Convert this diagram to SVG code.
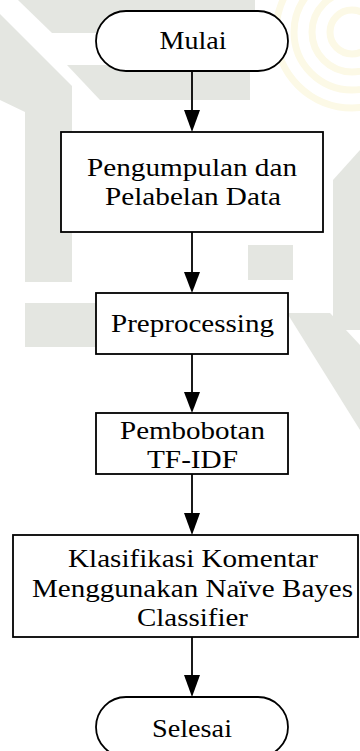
<svg xmlns="http://www.w3.org/2000/svg" width="360" height="751" viewBox="0 0 360 751">
<style>
  .wm { fill: #e4e6e1; stroke: none; }
  .ring { fill: none; stroke: #fcf9e6; stroke-width: 7; }
  .shape { fill: #ffffff; stroke: #000000; stroke-width: 1.8; }
  .lbl { font-family: "Liberation Serif", "Times New Roman", serif; font-size: 26px; fill: #000000; text-anchor: middle; }
  .conn { stroke: #000000; stroke-width: 1.8; fill: none; }
  .head { fill: #000000; stroke: none; }
</style>
<defs>
  <clipPath id="clipTR"><rect x="262" y="0" width="98" height="112"/></clipPath>
</defs>
<rect x="0" y="0" width="360" height="751" fill="#ffffff"/>
<g id="watermark">
  <polygon class="wm" points="18,0 255,0 255,33 52,33"/>
  <polygon class="wm" points="0,14 72,86 72,282 25,282 25,112 0,100"/>
  <polygon class="wm" points="67,65 250,65 250,100 100,100"/>
  <polygon class="wm" points="248,245 293,245 293,280 248,280"/>
  <polygon class="wm" points="333,180 360,150 360,330 333,330"/>
  <polygon class="wm" points="25,303 150,303 150,347 25,347"/>
  <polygon class="wm" points="287,313 330,313 360,345 360,430"/>
  <g clip-path="url(#clipTR)">
    <circle class="ring" cx="352" cy="32" r="22"/>
    <circle class="ring" cx="352" cy="32" r="40"/>
    <circle class="ring" cx="352" cy="32" r="58"/>
    <circle class="ring" cx="352" cy="32" r="76"/>
  </g>
</g>
<g id="connectors">
  <line class="conn" x1="192" y1="71" x2="192" y2="112"/>
  <polygon class="head" points="184,110 200,110 192,132"/>
  <line class="conn" x1="192" y1="232" x2="192" y2="274"/>
  <polygon class="head" points="184,272 200,272 192,293"/>
  <line class="conn" x1="192" y1="354" x2="192" y2="394"/>
  <polygon class="head" points="184,392 200,392 192,413"/>
  <line class="conn" x1="192" y1="474" x2="192" y2="515"/>
  <polygon class="head" points="184,513 200,513 192,535"/>
  <line class="conn" x1="192" y1="637" x2="192" y2="677"/>
  <polygon class="head" points="184,675 200,675 192,697"/>
</g>
<g id="mulai">
  <rect class="shape" x="96" y="11" width="192" height="60" rx="30" ry="30"/>
  <text class="lbl" x="193" y="49" textLength="67" lengthAdjust="spacingAndGlyphs">Mulai</text>
</g>
<g id="pengumpulan">
  <rect class="shape" x="61" y="132" width="262" height="100"/>
  <text class="lbl" x="192" y="176" textLength="210" lengthAdjust="spacingAndGlyphs">Pengumpulan dan</text>
  <text class="lbl" x="193" y="205" textLength="176" lengthAdjust="spacingAndGlyphs">Pelabelan Data</text>
</g>
<g id="preprocessing">
  <rect class="shape" x="96" y="293" width="192" height="61"/>
  <text class="lbl" x="192.5" y="332" textLength="163" lengthAdjust="spacingAndGlyphs">Preprocessing</text>
</g>
<g id="pembobotan">
  <rect class="shape" x="96" y="413" width="192" height="61"/>
  <text class="lbl" x="192.5" y="439" textLength="145" lengthAdjust="spacingAndGlyphs">Pembobotan</text>
  <text class="lbl" x="192.5" y="468" textLength="91" lengthAdjust="spacingAndGlyphs">TF-IDF</text>
</g>
<g id="klasifikasi">
  <rect class="shape" x="13" y="535" width="345" height="102"/>
  <text class="lbl" x="193" y="567" textLength="250" lengthAdjust="spacingAndGlyphs">Klasifikasi Komentar</text>
  <text class="lbl" x="192.5" y="597" textLength="321" lengthAdjust="spacingAndGlyphs">Menggunakan Naïve Bayes</text>
  <text class="lbl" x="192.5" y="626" textLength="111" lengthAdjust="spacingAndGlyphs">Classifier</text>
</g>
<g id="selesai">
  <rect class="shape" x="96" y="697" width="192" height="60" rx="30" ry="30"/>
  <text class="lbl" x="192" y="737" textLength="80" lengthAdjust="spacingAndGlyphs">Selesai</text>
</g>
</svg>
